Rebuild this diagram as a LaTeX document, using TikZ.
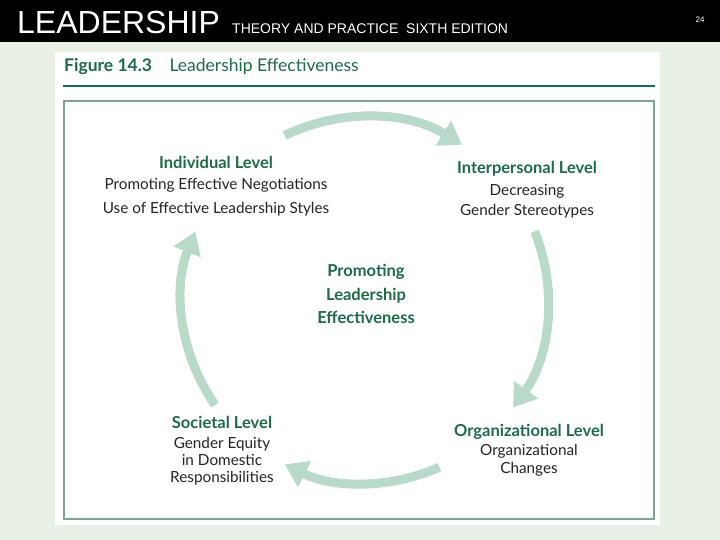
\documentclass[tikz,border=0pt]{standalone}
\usepackage{fontspec}
\setmainfont{Liberation Sans}
\newfontfamily\gill{Lato}
\usetikzlibrary{arrows.meta}
\definecolor{dgreen}{HTML}{1E6B48}
\definecolor{lgreen}{HTML}{B9D9C9}
\definecolor{frame}{HTML}{7FA592}
\definecolor{bgc}{HTML}{E9F0E6}
\definecolor{txt}{HTML}{2A2320}
\begin{document}
\begin{tikzpicture}[x=1pt,y=-1pt,
  head/.style={font=\gill\bfseries\fontsize{16.5}{18}\selectfont,text=dgreen},
  body/.style={font=\gill\fontsize{15.3}{16}\selectfont,text=txt,align=center},
  arc/.style={lgreen,line width=9pt,-{Triangle[width=28pt,length=22pt]}}]
\useasboundingbox (0,0) rectangle (720,540);
\fill[bgc] (0,0) rectangle (720,540);
\fill[black] (0,0) rectangle (720,42);
\node[anchor=west,text=white,font=\fontsize{32}{34}\selectfont,inner sep=0] (t1) at (17,22) {LEADERSHIP};
\node[anchor=west,text=white,font=\fontsize{14}{16}\selectfont,inner sep=0] (t2) at (232,29) {THEORY AND PRACTICE\ \ SIXTH EDITION};
\node[text=white,font=\fontsize{8}{9}\selectfont] (pg) at (700,20) {24};
\fill[white] (55,52) rectangle (660,525);
\node[anchor=west,font=\gill\fontsize{17.5}{18}\selectfont,text=dgreen,inner sep=0] (ft) at (64,67) {\textbf{Figure 14.3}\quad Leadership Effectiveness};
\draw[dgreen,line width=2.5pt] (63,86) -- (655,86);
\draw[frame,line width=1.5pt] (64,101) rectangle (654,519);
\coordinate (c) at (365,300);
\draw[arc] ([shift={(-116:183)}]c) arc[start angle=-116,end angle=-58,radius=183];
\draw[arc] ([shift={(-22:183)}]c) arc[start angle=-22,end angle=36,radius=183];
\draw[arc] ([shift={(66:183)}]c) arc[start angle=66,end angle=116,radius=183];
\draw[arc] ([shift={(145:183)}]c) arc[start angle=145,end angle=202,radius=183];
\node[head] (ih) at (216,162) {Individual Level};
\node[body,font=\gill\fontsize{15.3}{24}\selectfont] (ib) at (216,197) {Promoting Effective Negotiations\\Use of Effective Leadership Styles};
\node[head] (ph) at (527,169) {Interpersonal Level};
\node[body,font=\gill\fontsize{15.3}{20}\selectfont] (pb) at (527,201) {Decreasing\\Gender Stereotypes};
\node[head,align=center,font=\gill\bfseries\fontsize{16.5}{23.5}\selectfont] (cc) at (366,294) {Promoting\\Leadership\\Effectiveness};
\node[head] (sh) at (222,422) {Societal Level};
\node[body,font=\gill\fontsize{15.3}{17}\selectfont] (sb) at (222,461) {Gender Equity\\in Domestic\\Responsibilities};
\node[head] (oh) at (529,432) {Organizational Level};
\node[body,font=\gill\fontsize{15.3}{18}\selectfont] (ob) at (529,460) {Organizational\\Changes};
\end{tikzpicture}
\end{document}
